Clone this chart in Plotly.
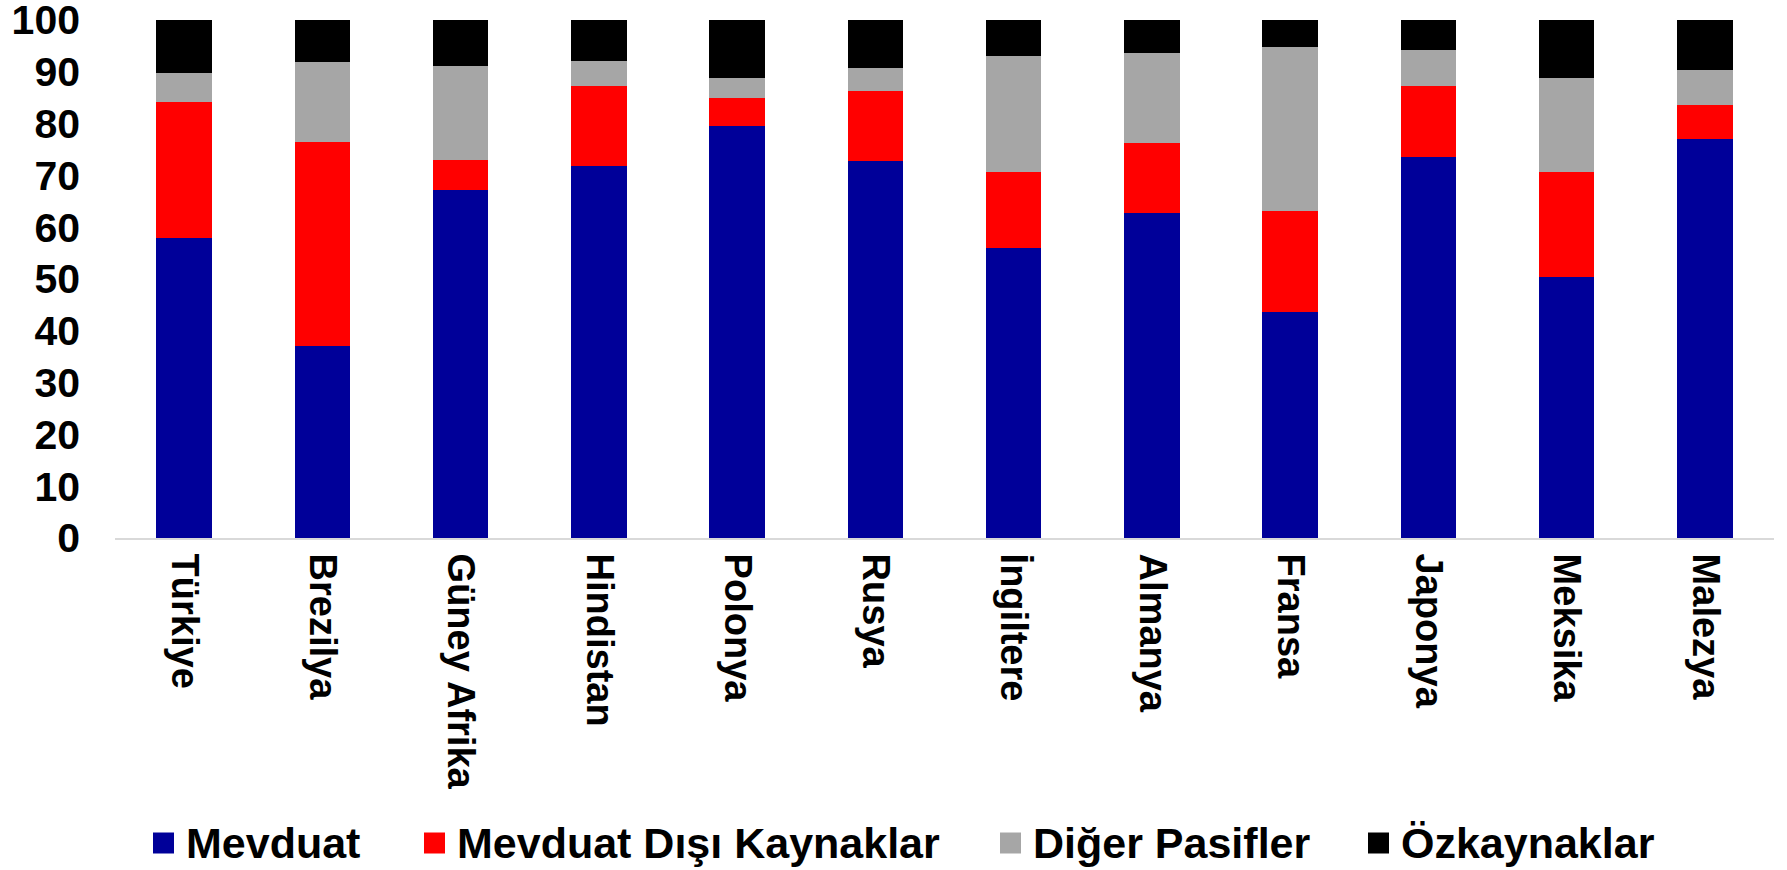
import plotly.graph_objects as go

countries = ["Türkiye", "Brezilya", "Güney Afrika", "Hindistan", "Polonya", "Rusya",
             "İngiltere", "Almanya", "Fransa", "Japonya", "Meksika", "Malezya"]
mevduat = [58.0, 37.0, 67.2, 71.8, 79.5, 72.7, 56.0, 62.8, 43.7, 73.5, 50.3, 77.1]
mevduat_disi = [26.2, 39.4, 5.8, 15.4, 5.4, 13.6, 14.7, 13.4, 19.4, 13.7, 20.3, 6.4]
diger_pasifler = [5.6, 15.4, 18.2, 4.8, 4.0, 4.5, 22.3, 17.5, 31.6, 7.1, 18.3, 6.8]
ozkaynaklar = [10.2, 8.2, 8.8, 8.0, 11.1, 9.2, 7.0, 6.3, 5.3, 5.7, 11.1, 9.7]

series_names = ["Mevduat", "Mevduat Dışı Kaynaklar", "Diğer Pasifler", "Özkaynaklar"]
series_values = [mevduat, mevduat_disi, diger_pasifler, ozkaynaklar]
colors = ["#000099", "#FF0000", "#A6A6A6", "#000000"]

FONT = "Liberation Sans, Arial, sans-serif"
W, H = 1787, 870
L, R, T, B = 115, 13, 20, 332

fig = go.Figure()
for name, vals, col in zip(series_names, series_values, colors):
    fig.add_trace(go.Bar(x=countries, y=vals, name=name, marker=dict(color=col, line=dict(width=0)),
                         showlegend=False))

fig.update_layout(
    width=W, height=H,
    margin=dict(l=L, r=R, t=T, b=B, autoexpand=False),
    barmode="stack", bargap=0.6,
    paper_bgcolor="white", plot_bgcolor="white",
    font=dict(family=FONT, color="black"),
)
fig.update_yaxes(range=[0, 100], dtick=10, tick0=0, showgrid=False, zeroline=False, showline=False,
                 ticks="", tickfont=dict(family=FONT, size=41, weight="bold", color="black"),
                 ticklabelstandoff=34, ticklabeloverflow="allow", automargin=False)
fig.update_xaxes(showgrid=False, zeroline=False, showline=True, linecolor="#D9D9D9", linewidth=2,
                 ticks="", tickangle=90, automargin=False,
                 tickfont=dict(family=FONT, size=38, weight="bold", color="black"),
                 ticklabelstandoff=6)

# custom legend (pixel layout converted to paper coordinates)
pw, ph = W - L - R, H - T - B
def px_x(p):
    return (p - L) / pw
def px_y(p):
    return (H - B - p) / ph

legend_square_x = [153, 424, 1000, 1368]
sq = 21
ly = 843
for name, col, sx in zip(series_names, colors, legend_square_x):
    fig.add_shape(type="rect", xref="paper", yref="paper",
                  x0=px_x(sx), x1=px_x(sx + sq), y0=px_y(ly + sq / 2), y1=px_y(ly - sq / 2),
                  fillcolor=col, line=dict(width=0), layer="above")
    fig.add_annotation(xref="paper", yref="paper", x=px_x(sx + sq + 10), y=px_y(ly),
                       xanchor="left", yanchor="middle", showarrow=False, text=name,
                       font=dict(family=FONT, size=43, weight="bold", color="black"))

fig.write_html("out.html", config={"displayModeBar": False},
               post_script="document.body.style.margin='0px';document.body.style.overflow='hidden';")
